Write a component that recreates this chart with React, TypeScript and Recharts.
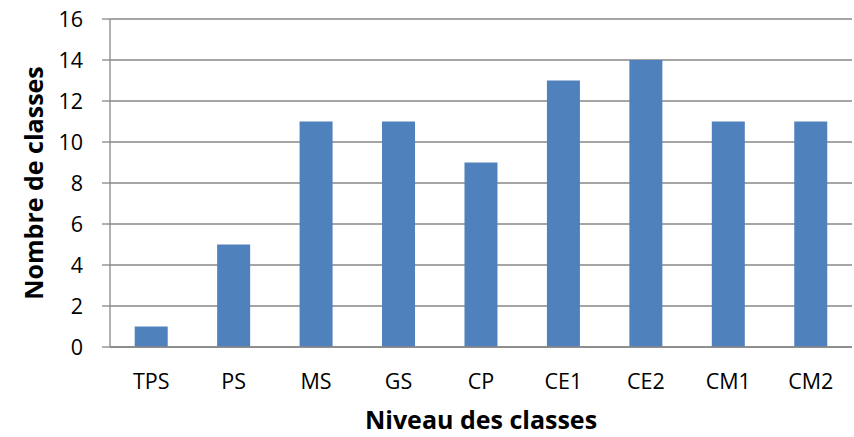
import React from 'react';
import { BarChart, Bar, XAxis, YAxis, CartesianGrid, Label } from 'recharts';

const categories = ['TPS', 'PS', 'MS', 'GS', 'CP', 'CE1', 'CE2', 'CM1', 'CM2'];
const values = [1, 5, 11, 11, 9, 13, 14, 11, 11];
const yTicks = [0, 2, 4, 6, 8, 10, 12, 14, 16];

const data = categories.map((c, i) => ({ name: c, value: values[i] }));

const FONT = '"Open Sans", "Liberation Sans", sans-serif';

export default function App() {
  return (
    <div style={{ position: 'absolute', left: 0, top: 0, width: 854, height: 437, background: '#fff' }}>
      <BarChart
        width={854}
        height={437}
        data={data}
        margin={{ top: 19, right: 2, bottom: 0, left: 0 }}
        barCategoryGap={24.7}
      >
        <CartesianGrid vertical={false} stroke="#878787" strokeWidth={1.3} />
        <XAxis
          dataKey="name"
          height={90}
          tickLine={false}
          tickSize={0}
          tickMargin={27}
          axisLine={{ stroke: '#878787', strokeWidth: 1.3 }}
          tick={{ fill: '#000', fontSize: 21.5, fontFamily: FONT }}
        >
          <Label
            content={({ viewBox }: any) => (
              <text
                x={viewBox.x + viewBox.width / 2}
                y={429}
                textAnchor="middle"
                fontFamily={FONT}
                fontWeight="bold"
                fontSize={25}
                fill="#000"
              >
                Niveau des classes
              </text>
            )}
          />
        </XAxis>
        <YAxis
          width={110}
          domain={[0, 16]}
          ticks={yTicks}
          interval={0}
          tickSize={8}
          tickMargin={19}
          tickLine={{ stroke: '#878787', strokeWidth: 1.3 }}
          axisLine={{ stroke: '#878787', strokeWidth: 1.3 }}
          tick={{ fill: '#000', fontSize: 21.5, fontFamily: FONT }}
        >
          <Label
            content={({ viewBox }: any) => {
              const cy = viewBox.y + viewBox.height / 2;
              return (
                <text
                  x={43}
                  y={cy}
                  transform={`rotate(-90, 43, ${cy})`}
                  textAnchor="middle"
                  fontFamily={FONT}
                  fontWeight="bold"
                  fontSize={25}
                  fill="#000"
                >
                  Nombre de classes
                </text>
              );
            }}
          />
        </YAxis>
        <Bar dataKey="value" fill="#4F81BD" isAnimationActive={false} />
      </BarChart>
    </div>
  );
}
